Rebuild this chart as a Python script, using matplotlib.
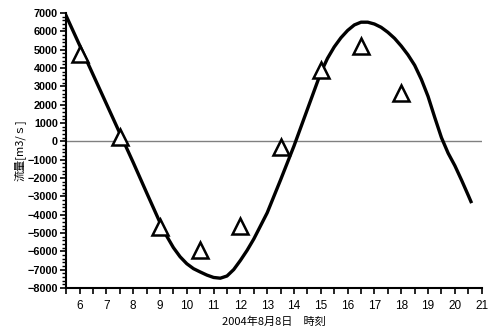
import numpy as np
import matplotlib.pyplot as plt
from matplotlib.ticker import MultipleLocator

plt.rcParams['font.family'] = ['Liberation Sans', 'Noto Sans CJK JP', 'DejaVu Sans']

# observed discharge (triangles)
obs_time = [6.0, 7.5, 9.0, 10.5, 12.0, 13.5, 15.0, 16.5, 18.0]
obs_flow = [4750, 250, -4650, -5930, -4600, -330, 3900, 5200, 2620]

# computed discharge (curve)
calc_time = [5.5, 6.0, 6.5, 7.0, 7.5, 8.0, 8.5, 9.0, 9.25, 9.5, 9.75, 10.0,
             10.25, 10.5, 10.75, 11.0, 11.25, 11.5, 11.75, 12.0, 12.25, 12.5,
             13.0, 13.5, 14.0, 14.5, 15.0, 15.25, 15.5, 15.75, 16.0, 16.25,
             16.5, 16.75, 17.0, 17.25, 17.5, 17.75, 18.0, 18.25, 18.5, 18.75,
             19.0, 19.25, 19.5, 19.75, 20.0, 20.25, 20.5, 20.6]
calc_flow = [6850, 5250, 3650, 2050, 450, -1150, -2800, -4430, -5170, -5800,
             -6300, -6680, -6950, -7130, -7300, -7430, -7470, -7350, -7000,
             -6500, -5950, -5330, -3900, -2100, -250, 1750, 3750, 4530, 5150,
             5650, 6050, 6350, 6500, 6500, 6400, 6220, 5950, 5620, 5200, 4720,
             4150, 3380, 2450, 1300, 200, -650, -1330, -2120, -2950, -3290]

fig = plt.figure(figsize=(4.9, 3.34), dpi=100)
ax = fig.add_axes([0.135, 0.138, 0.848, 0.823])

ax.axhline(0, color='#808080', linewidth=1.0, zorder=1)
ax.plot(calc_time, calc_flow, color='black', linewidth=2.4, zorder=2,
        solid_joinstyle='round')
ax.plot(obs_time, obs_flow, linestyle='none', marker='^', markersize=11,
        markerfacecolor='white', markeredgecolor='black', markeredgewidth=1.8,
        zorder=3)

ax.set_xlim(5.5, 21)
ax.set_ylim(-8000, 7000)
ax.xaxis.set_major_locator(MultipleLocator(1))
ax.xaxis.set_minor_locator(MultipleLocator(0.5))
ax.yaxis.set_major_locator(MultipleLocator(1000))
ax.yaxis.set_minor_locator(MultipleLocator(200))

for side in ['top', 'right']:
    ax.spines[side].set_visible(False)
for side in ['left', 'bottom']:
    ax.spines[side].set_linewidth(1.5)

ax.tick_params(axis='x', which='both', direction='out', length=4, width=1.2,
               labelsize=8.5, pad=5)
ax.tick_params(axis='y', which='major', direction='out', length=4, width=1.2,
               labelsize=7.8, pad=2)
ax.tick_params(axis='y', which='minor', direction='out', length=3, width=1.0)
for lbl in ax.get_yticklabels():
    lbl.set_fontweight('bold')

ax.set_xlabel('2004年8月8日　時刻', fontsize=8, labelpad=3,
              family=['Noto Sans CJK JP', 'DejaVu Sans'])
ax.set_ylabel('流量[m3/ｓ]', fontsize=8, labelpad=1,
              family=['Noto Sans CJK JP', 'DejaVu Sans'])

fig.savefig('out.png', dpi=100)
